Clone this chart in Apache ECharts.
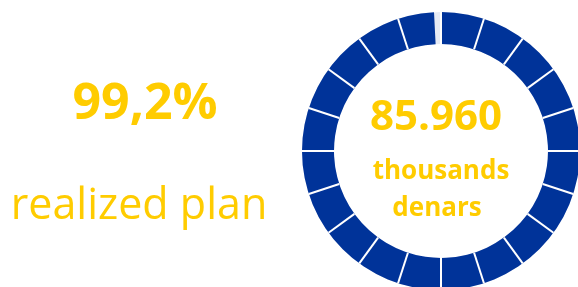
<!DOCTYPE html>
<html>
<head>
    <meta charset="utf-8">
    <title>realized plan</title>
    <script src="https://cdn.jsdelivr.net/npm/echarts@6/dist/echarts.min.js"></script>
</head>
<body style="margin:0">
<div id="chart" style="width: 578px; height: 287px"></div>
<script>
    // realized share of the plan, in percent
    var realized = [99.2];
    // number of ring segments
    var segments = 20;
    // texts
    var percentText = ['99,2%'];
    var planText = ['realized plan'];
    var amountLines = ['85.960', 'thousands', 'denars'];

    var yellow = '#ffcc00';
    var blue = '#003399';

    // shared ring settings
    var ring = {
        type: 'gauge',
        center: [441, 151],
        radius: 139,
        startAngle: 90,
        endAngle: -270,
        min: 0,
        max: 100,
        splitNumber: segments,
        pointer: { show: false },
        axisTick: { show: false },
        axisLabel: { show: false },
        title: { show: false },
        detail: { show: false }
    };

    var chart = echarts.init(document.getElementById('chart'));
    var option = {
        backgroundColor: '#ffffff',
        series: [
            // filled ring
            Object.assign({}, ring, {
                z: 2,
                progress: {
                    show: true,
                    width: 32,
                    roundCap: false,
                    itemStyle: { color: blue }
                },
                axisLine: {
                    lineStyle: { width: 32, color: [[1, '#e6eaf4']] }
                },
                splitLine: { show: false },
                data: [{ value: realized[0] }]
            }),
            // white separators on top
            Object.assign({}, ring, {
                z: 3,
                progress: { show: false },
                axisLine: { show: false, lineStyle: { width: 32 } },
                splitLine: {
                    show: true,
                    distance: -32,
                    length: 32,
                    lineStyle: { color: '#ffffff', width: 2 }
                },
                data: [{ value: 0 }]
            })
        ],
        graphic: [
            {
                type: 'text',
                style: {
                    text: percentText[0], x: 145, y: 130, textAlign: 'center', textVerticalAlign: 'bottom',
                    fill: yellow, font: 'bold 50px "Open Sans"'
                }
            },
            {
                type: 'text',
                style: {
                    text: planText[0], x: 139, y: 228, textAlign: 'center', textVerticalAlign: 'bottom',
                    fill: yellow, font: '43px "Open Sans"'
                }
            },
            {
                type: 'text',
                style: {
                    text: amountLines[0], x: 436, y: 139, textAlign: 'center', textVerticalAlign: 'bottom',
                    fill: yellow, font: 'bold 42px "Open Sans"'
                }
            },
            {
                type: 'text',
                style: {
                    text: amountLines[1], x: 441, y: 185, textAlign: 'center', textVerticalAlign: 'bottom',
                    fill: yellow, font: 'bold 26px "Open Sans"'
                }
            },
            {
                type: 'text',
                style: {
                    text: amountLines[2], x: 437, y: 222, textAlign: 'center', textVerticalAlign: 'bottom',
                    fill: yellow, font: 'bold 26px "Open Sans"'
                }
            }
        ]
    };
    chart.setOption(option);
</script>
</body>
</html>
